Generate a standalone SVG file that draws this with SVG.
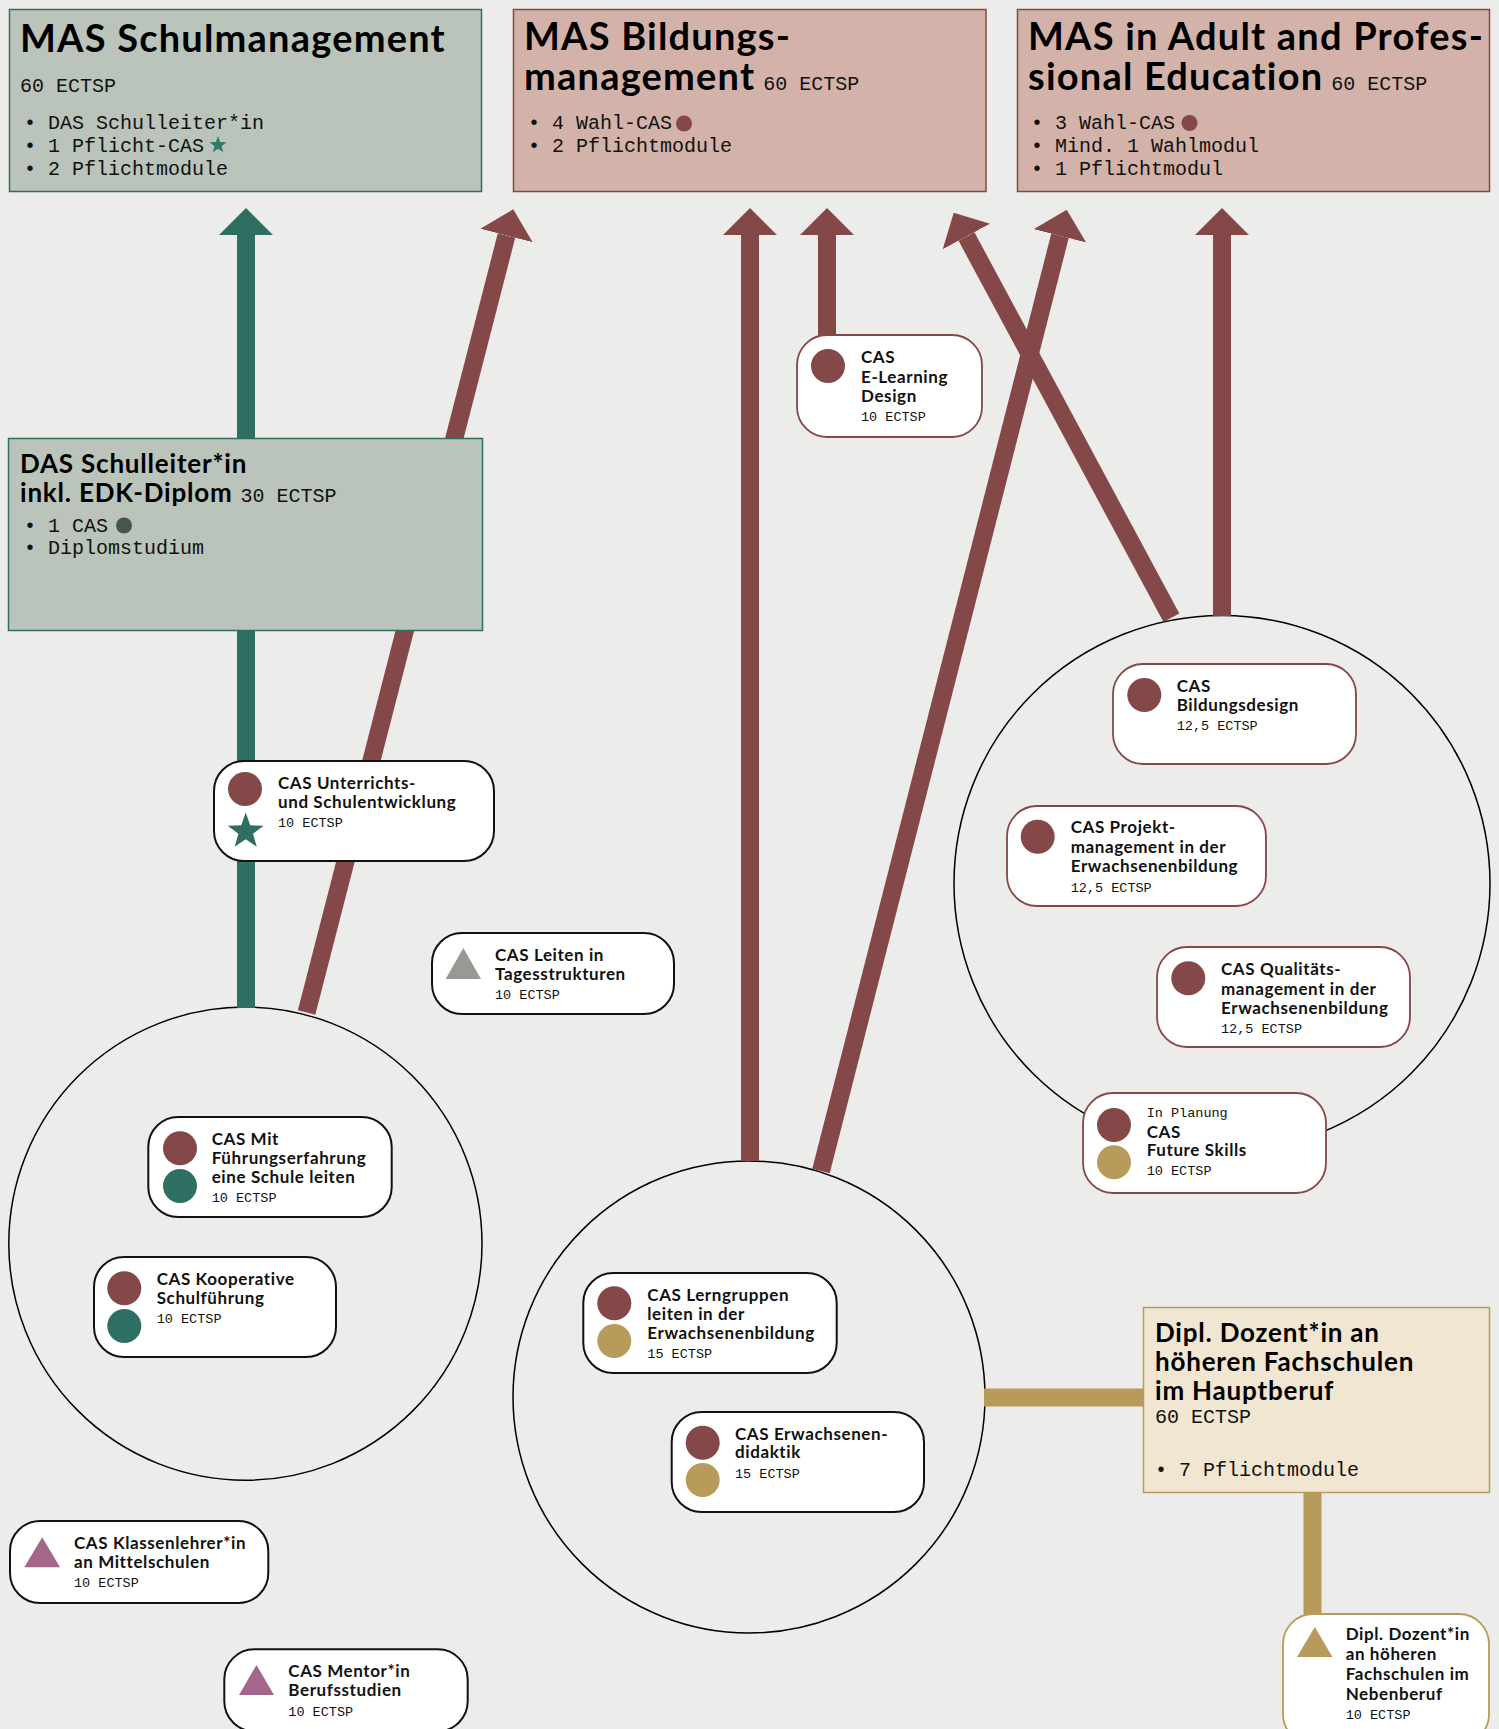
<svg xmlns="http://www.w3.org/2000/svg" width="1499" height="1729" viewBox="0 0 1499 1729">
<style>
.t1{font-family:Lato,"Noto Sans",sans-serif;font-weight:700;font-size:38px;letter-spacing:1.2px;fill:#000}
.t2{font-family:Lato,"Noto Sans",sans-serif;font-weight:700;font-size:26px;letter-spacing:0.8px;fill:#000}
.nt{font-family:Lato,"Noto Sans",sans-serif;font-weight:700;font-size:17px;letter-spacing:0.6px;fill:#111}
.m1{font-family:"Liberation Mono",monospace;font-size:20px;fill:#111}
.m2{font-family:"Liberation Mono",monospace;font-size:13.5px;fill:#111}
.gbox{fill:#bac4bb;stroke:#2f6e62;stroke-width:1.5}
.rbox{fill:#d3b3a9;stroke:#844848;stroke-width:1.5}
.ybox{fill:#f0e6d2;stroke:#b89b5b;stroke-width:1.5}
.nb{fill:#fff;stroke:#111;stroke-width:2}
.nr{fill:#fff;stroke:#844848;stroke-width:1.8}
.ny{fill:#fff;stroke:#b89b5b;stroke-width:1.8}
.grp{fill:none;stroke:#000;stroke-width:1.5}
.cr{fill:#844848}
.cg{fill:#2f6e62}
.cy{fill:#b89b5b}
.lr{stroke:#844848;stroke-width:18;fill:none}
.lg{stroke:#2f6e62;stroke-width:18;fill:none}
.ly{stroke:#b89b5b;stroke-width:18;fill:none}
</style>
<defs>
<marker id="ar" markerUnits="userSpaceOnUse" viewBox="0 -27 27 54" markerWidth="27" markerHeight="54" refX="0" refY="0" orient="auto"><path d="M0,-27 L27,0 L0,27 Z" fill="#844848"/></marker>
<marker id="ag" markerUnits="userSpaceOnUse" viewBox="0 -27 27 54" markerWidth="27" markerHeight="54" refX="0" refY="0" orient="auto"><path d="M0,-27 L27,0 L0,27 Z" fill="#2f6e62"/></marker>
<path id="star" d="M0,-18 L4.29,-5.91 L17.12,-5.56 L6.94,2.26 L10.58,14.56 L0,7.3 L-10.58,14.56 L-6.94,2.26 L-17.12,-5.56 L-4.29,-5.91Z"/>
</defs>
<rect width="1499" height="1729" fill="#ececea"/>

<g id="groups">
<circle class="grp" cx="245.4" cy="1243.6" r="236.6"/>
<circle class="grp" cx="749" cy="1397" r="236"/>
<circle class="grp" cx="1222" cy="883.5" r="268"/>
</g>

<g id="connectors">
<line class="lg" x1="246" y1="1008" x2="246" y2="235" marker-end="url(#ag)"/>
<line class="lr" x1="306.6" y1="1012.6" x2="506.5" y2="235.5" marker-end="url(#ar)"/>
<line class="lr" x1="750" y1="1161" x2="750" y2="235" marker-end="url(#ar)"/>
<line class="lr" x1="827" y1="336" x2="827" y2="235" marker-end="url(#ar)"/>
<line class="lr" x1="821" y1="1171" x2="1060" y2="235.8" marker-end="url(#ar)"/>
<line class="lr" x1="1171.4" y1="617.7" x2="966.5" y2="236.5" marker-end="url(#ar)"/>
<line class="lr" x1="1222" y1="616" x2="1222" y2="235" marker-end="url(#ar)"/>
<line class="ly" x1="984" y1="1397.5" x2="1144" y2="1397.5"/>
<line class="ly" x1="1312.5" y1="1492" x2="1312.5" y2="1615"/>
</g>

<g id="mas-schulmanagement">
<rect class="gbox" x="9.5" y="9.5" width="472" height="182"/>
<text class="t1" x="20" y="52">MAS Schulmanagement</text>
<text class="m1" x="20" y="92">60 ECTSP</text>
<text class="m1" x="24" y="129">• DAS Schulleiter*in</text>
<text class="m1" x="24" y="152">• 1 Pflicht-CAS</text>
<use href="#star" transform="translate(218,145) scale(0.5)" fill="#2f7a6a"/>
<text class="m1" x="24" y="175">• 2 Pflichtmodule</text>
</g>

<g id="mas-bildungsmanagement">
<rect class="rbox" x="513.5" y="9.5" width="472.5" height="182"/>
<text class="t1" x="524" y="50">MAS Bildungs-</text>
<text x="524" y="90"><tspan class="t1">management</tspan><tspan class="m1" dx="8">60 ECTSP</tspan></text>
<text class="m1" x="528" y="129">• 4 Wahl-CAS</text>
<circle class="cr" cx="684" cy="123.5" r="8"/>
<text class="m1" x="528" y="152">• 2 Pflichtmodule</text>
</g>

<g id="mas-ape">
<rect class="rbox" x="1017.5" y="9.5" width="472" height="182"/>
<text class="t1" x="1028" y="50">MAS in Adult and Profes-</text>
<text x="1028" y="90"><tspan class="t1">sional Education</tspan><tspan class="m1" dx="8">60 ECTSP</tspan></text>
<text class="m1" x="1031" y="129">• 3 Wahl-CAS</text>
<circle class="cr" cx="1189.5" cy="123" r="8"/>
<text class="m1" x="1031" y="152">• Mind. 1 Wahlmodul</text>
<text class="m1" x="1031" y="175">• 1 Pflichtmodul</text>
</g>

<g id="das-schulleiter">
<rect class="gbox" x="8.5" y="438.5" width="474" height="192"/>
<text class="t2" x="20" y="473">DAS Schulleiter*in</text>
<text x="20" y="502"><tspan class="t2">inkl. EDK-Diplom</tspan><tspan class="m1" dx="8">30 ECTSP</tspan></text>
<text class="m1" x="24" y="532">• 1 CAS</text>
<circle cx="124" cy="525.5" r="8" fill="#44574a"/>
<text class="m1" x="24" y="554">• Diplomstudium</text>
</g>

<g id="dipl-hauptberuf">
<rect class="ybox" x="1143.5" y="1307.5" width="346" height="185"/>
<text class="t2" x="1155" y="1342">Dipl. Dozent*in an</text>
<text class="t2" x="1155" y="1371">höheren Fachschulen</text>
<text class="t2" x="1155" y="1400">im Hauptberuf</text>
<text class="m1" x="1155" y="1423">60 ECTSP</text>
<text class="m1" x="1155" y="1476">• 7 Pflichtmodule</text>
</g>

<g id="cas-elearning">
<rect class="nr" x="797" y="335" width="185" height="102" rx="30"/>
<circle class="cr" cx="828" cy="366" r="17"/>
<text class="nt" x="861" y="363">CAS</text>
<text class="nt" x="861" y="383">E-Learning</text>
<text class="nt" x="861" y="402">Design</text>
<text class="m2" x="861" y="421">10 ECTSP</text>
</g>

<g id="cas-unterricht">
<rect class="nb" x="214" y="761" width="280" height="100" rx="30"/>
<circle class="cr" cx="245" cy="789" r="17"/>
<use href="#star" transform="translate(245.7,831.5) scale(1.05)" fill="#2f6e62"/>
<text class="nt" x="278" y="789">CAS Unterrichts-</text>
<text class="nt" x="278" y="808">und Schulentwicklung</text>
<text class="m2" x="278" y="827">10 ECTSP</text>
</g>

<g id="cas-leiten">
<rect class="nb" x="432" y="933" width="242" height="81" rx="30"/>
<polygon points="463.3,948 481,979 445.7,979" fill="#9a9893"/>
<text class="nt" x="495" y="961">CAS Leiten in</text>
<text class="nt" x="495" y="980">Tagesstrukturen</text>
<text class="m2" x="495" y="999">10 ECTSP</text>
</g>

<g id="cas-bildungsdesign">
<rect class="nr" x="1113" y="664" width="243" height="100" rx="30"/>
<circle class="cr" cx="1144.3" cy="695" r="17"/>
<text class="nt" x="1176.7" y="692">CAS</text>
<text class="nt" x="1176.7" y="711">Bildungsdesign</text>
<text class="m2" x="1176.7" y="730">12,5 ECTSP</text>
</g>

<g id="cas-projekt">
<rect class="nr" x="1007" y="806" width="259" height="100" rx="30"/>
<circle class="cr" cx="1037.7" cy="836.7" r="17"/>
<text class="nt" x="1070.7" y="833">CAS Projekt-</text>
<text class="nt" x="1070.7" y="853">management in der</text>
<text class="nt" x="1070.7" y="872">Erwachsenenbildung</text>
<text class="m2" x="1070.7" y="891.7">12,5 ECTSP</text>
</g>

<g id="cas-qualitaet">
<rect class="nr" x="1157" y="947" width="253" height="100" rx="30"/>
<circle class="cr" cx="1188.3" cy="978.3" r="17"/>
<text class="nt" x="1221" y="975">CAS Qualitäts-</text>
<text class="nt" x="1221" y="995">management in der</text>
<text class="nt" x="1221" y="1014">Erwachsenenbildung</text>
<text class="m2" x="1221" y="1033">12,5 ECTSP</text>
</g>

<g id="cas-future">
<rect class="nr" x="1083" y="1093" width="243" height="100" rx="30"/>
<circle class="cr" cx="1114" cy="1125" r="17"/>
<circle class="cy" cx="1114" cy="1162.3" r="17"/>
<text class="m2" x="1146.7" y="1117">In Planung</text>
<text class="nt" x="1146.7" y="1138">CAS</text>
<text class="nt" x="1146.7" y="1156">Future Skills</text>
<text class="m2" x="1146.7" y="1175">10 ECTSP</text>
</g>

<g id="cas-fuehrung">
<rect class="nb" x="148.3" y="1117" width="243.4" height="100" rx="30"/>
<circle class="cr" cx="180" cy="1148.3" r="17"/>
<circle class="cg" cx="180" cy="1186" r="17"/>
<text class="nt" x="211.7" y="1145">CAS Mit</text>
<text class="nt" x="211.7" y="1164">Führungserfahrung</text>
<text class="nt" x="211.7" y="1183.3">eine Schule leiten</text>
<text class="m2" x="211.7" y="1201.7">10 ECTSP</text>
</g>

<g id="cas-kooperativ">
<rect class="nb" x="94" y="1257" width="242" height="100" rx="30"/>
<circle class="cr" cx="124.3" cy="1288.3" r="17"/>
<circle class="cg" cx="124.3" cy="1326" r="17"/>
<text class="nt" x="156.7" y="1285">CAS Kooperative</text>
<text class="nt" x="156.7" y="1304">Schulführung</text>
<text class="m2" x="156.7" y="1323.3">10 ECTSP</text>
</g>

<g id="cas-lerngruppen">
<rect class="nb" x="583.3" y="1273" width="253.4" height="100" rx="30"/>
<circle class="cr" cx="614.3" cy="1303.3" r="17"/>
<circle class="cy" cx="614.3" cy="1341" r="17"/>
<text class="nt" x="647.3" y="1300.7">CAS Lerngruppen</text>
<text class="nt" x="647.3" y="1320">leiten in der</text>
<text class="nt" x="647.3" y="1339.3">Erwachsenenbildung</text>
<text class="m2" x="647.3" y="1358.3">15 ECTSP</text>
</g>

<g id="cas-didaktik">
<rect class="nb" x="671.7" y="1412" width="252.3" height="100" rx="30"/>
<circle class="cr" cx="702.7" cy="1442.7" r="17"/>
<circle class="cy" cx="702.7" cy="1480" r="17"/>
<text class="nt" x="735" y="1440">CAS Erwachsenen-</text>
<text class="nt" x="735" y="1458.3">didaktik</text>
<text class="m2" x="735" y="1477.7">15 ECTSP</text>
</g>

<g id="cas-klassenlehrer">
<rect class="nb" x="10" y="1521" width="258.3" height="82" rx="30"/>
<polygon points="42.2,1537.3 60,1567.3 24.3,1567.3" fill="#a4668b"/>
<text class="nt" x="74" y="1549">CAS Klassenlehrer*in</text>
<text class="nt" x="74" y="1567.7">an Mittelschulen</text>
<text class="m2" x="74" y="1587.3">10 ECTSP</text>
</g>

<g id="cas-mentor">
<rect class="nb" x="224.3" y="1649.3" width="243.4" height="82" rx="30"/>
<polygon points="256.5,1665 274,1695 239,1695" fill="#a4668b"/>
<text class="nt" x="288.3" y="1676.7">CAS Mentor*in</text>
<text class="nt" x="288.3" y="1695.7">Berufsstudien</text>
<text class="m2" x="288.3" y="1715.7">10 ECTSP</text>
</g>

<g id="dipl-nebenberuf">
<rect class="ny" x="1283" y="1614" width="206" height="130" rx="30"/>
<polygon points="1314.8,1627 1332.5,1657 1297,1657" fill="#b89b5b"/>
<text class="nt" x="1345.7" y="1640">Dipl. Dozent*in</text>
<text class="nt" x="1345.7" y="1660">an höheren</text>
<text class="nt" x="1345.7" y="1680">Fachschulen im</text>
<text class="nt" x="1345.7" y="1700">Nebenberuf</text>
<text class="m2" x="1345.7" y="1719">10 ECTSP</text>
</g>
</svg>
